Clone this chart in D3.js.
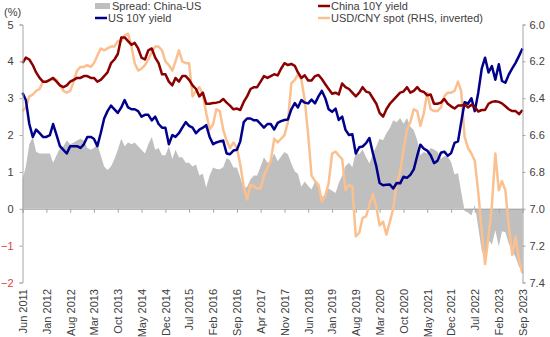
<!DOCTYPE html>
<html><head><meta charset="utf-8">
<script src="https://cdn.jsdelivr.net/npm/d3@7"></script>
<style>
body{margin:0;background:#fff;}
svg{display:block;font-family:"Liberation Sans",Arial,sans-serif;}
</style></head>
<body><svg id="c" width="550" height="337"></svg>
<script>
// Monthly observations, Jun 2011 .. Sep 2023
const startMonth = "2011-06";
const usYield = [
 3.15,2.95,2.3,1.95,2.15,2.05,1.95,
 1.95,2.0,2.3,2.0,1.7,1.6,1.5,1.7,1.7,1.7,1.65,1.75,
 1.95,1.95,1.9,1.7,2.05,2.45,2.65,2.8,2.7,2.6,2.75,2.95,
 2.75,2.7,2.7,2.65,2.5,2.55,2.55,2.4,2.5,2.3,2.2,2.2,
 1.75,2.0,1.95,2.05,2.2,2.35,2.25,2.2,2.05,2.15,2.2,2.27,
 1.95,1.75,1.8,1.83,1.85,1.5,1.48,1.58,1.6,1.83,2.35,2.45,
 2.45,2.4,2.4,2.3,2.2,2.3,2.3,2.15,2.33,2.38,2.41,2.42,
 2.7,2.87,2.75,2.95,2.88,2.86,2.96,2.86,3.05,3.2,3.0,2.7,
 2.63,2.72,2.41,2.5,2.14,2.0,2.02,1.5,1.67,1.69,1.78,1.92,
 1.51,1.15,0.7,0.64,0.65,0.66,0.55,0.7,0.69,0.87,0.84,0.92,
 1.07,1.44,1.74,1.63,1.58,1.45,1.24,1.3,1.52,1.55,1.44,1.51,
 1.79,1.83,2.34,2.89,2.85,3.0,2.65,3.15,3.8,4.1,3.7,3.87,
 3.5,3.92,3.47,3.42,3.64,3.81,3.96,4.15,4.35
];
const chinaYield = [
 3.95,4.1,4.05,3.9,3.7,3.55,3.45,
 3.45,3.5,3.55,3.45,3.35,3.3,3.35,3.45,3.5,3.55,3.55,3.6,
 3.6,3.55,3.55,3.45,3.5,3.6,3.7,3.95,4.05,4.2,4.65,4.65,
 4.55,4.45,4.5,4.35,4.1,4.05,4.3,4.35,4.1,3.95,3.65,3.65,
 3.45,3.35,3.55,3.45,3.6,3.6,3.5,3.35,3.25,3.05,3.15,2.85,
 2.85,2.87,2.88,2.9,2.98,2.88,2.8,2.7,2.72,2.68,2.9,3.05,
 3.25,3.3,3.3,3.45,3.6,3.55,3.6,3.65,3.62,3.8,3.95,3.9,
 3.93,3.88,3.7,3.55,3.62,3.48,3.48,3.6,3.63,3.52,3.38,3.25,
 3.12,3.15,3.1,3.4,3.3,3.25,3.15,3.05,3.15,3.3,3.18,3.15,
 3.0,2.85,2.6,2.5,2.7,2.85,2.95,3.05,3.15,3.18,3.3,3.15,
 3.2,3.3,3.2,3.17,3.08,3.1,2.85,2.85,2.88,2.98,2.85,2.78,
 2.72,2.8,2.8,2.83,2.75,2.82,2.76,2.64,2.68,2.68,2.85,2.9,
 2.92,2.9,2.86,2.78,2.7,2.65,2.65,2.57,2.68
];
const spread = [
 0.8,1.15,1.75,1.95,1.55,1.5,1.5,
 1.5,1.5,1.25,1.45,1.65,1.7,1.85,1.75,1.8,1.85,1.9,1.85,
 1.65,1.6,1.65,1.75,1.45,1.15,1.05,1.15,1.35,1.6,1.9,1.7,
 1.8,1.75,1.8,1.7,1.6,1.5,1.75,1.95,1.6,1.65,1.45,1.45,
 1.7,1.35,1.6,1.4,1.4,1.25,1.25,1.15,1.2,0.9,0.95,0.58,
 0.9,1.12,1.08,1.07,1.13,1.38,1.32,1.12,1.12,0.85,0.55,0.6,
 0.8,0.9,0.9,1.15,1.4,1.25,1.3,1.5,1.29,1.42,1.54,1.48,
 1.23,1.01,0.95,0.6,0.74,0.62,0.52,0.74,0.58,0.32,0.38,0.55,
 0.49,0.43,0.69,0.9,1.16,1.25,1.13,1.55,1.48,1.61,1.4,1.23,
 1.49,1.7,1.9,1.86,2.05,2.19,2.4,2.35,2.46,2.31,2.46,2.23,
 2.13,1.86,1.46,1.54,1.5,1.65,1.61,1.55,1.36,1.43,1.41,1.27,
 0.93,0.97,0.46,-0.06,-0.1,-0.18,0.11,-0.51,-1.12,-1.42,-0.85,-0.97,
 -0.58,-1.02,-0.61,-0.64,-0.94,-1.16,-1.31,-1.58,-1.67
];
const usdCny = [
 6.47,6.45,6.39,6.38,6.36,6.35,6.31,
 6.31,6.30,6.30,6.30,6.33,6.36,6.37,6.36,6.31,6.25,6.23,6.23,
 6.22,6.23,6.21,6.17,6.13,6.14,6.13,6.12,6.12,6.09,6.09,6.06,
 6.05,6.12,6.21,6.25,6.24,6.22,6.19,6.15,6.12,6.12,6.14,6.20,
 6.22,6.25,6.20,6.14,6.20,6.21,6.21,6.39,6.36,6.34,6.38,6.48,
 6.57,6.54,6.46,6.47,6.57,6.63,6.67,6.64,6.67,6.76,6.88,6.95,
 6.87,6.88,6.89,6.89,6.82,6.78,6.74,6.62,6.64,6.62,6.60,6.53,
 6.32,6.30,6.27,6.30,6.41,6.60,6.82,6.85,6.87,6.96,6.93,6.86,
 6.70,6.69,6.71,6.73,6.90,6.87,6.88,7.15,7.13,7.05,7.04,6.98,
 6.92,6.99,7.09,7.07,7.14,7.07,7.00,6.86,6.80,6.68,6.57,6.53,
 6.46,6.47,6.55,6.48,6.37,6.46,6.47,6.47,6.45,6.39,6.37,6.37,
 6.36,6.31,6.36,6.61,6.67,6.70,6.74,6.91,7.12,7.30,7.15,6.98,
 6.70,6.90,6.85,6.90,7.09,7.25,7.15,7.28,7.35
];
const leftTicks = [-2,-1,0,1,2,3,4,5];
const rightTicks = [6.0,6.2,6.4,6.6,6.8,7.0,7.2,7.4];
const xTickLabels = ["Jun 2011","Jan 2012","Aug 2012","Mar 2013","Oct 2013","May 2014","Dec 2014","Jul 2015","Feb 2016","Sep 2016","Apr 2017","Nov 2017","Jun 2018","Jan 2019","Aug 2019","Mar 2020","Oct 2020","May 2021","Dec 2021","Jul 2022","Feb 2023","Sep 2023"];
const legendNames = ["Spread: China-US","US 10Y yield","China 10Y yield","USD/CNY spot (RHS, inverted)"];

const colors = {spread:"#BFBFBF", us:"#00008B", china:"#8B0000", cny:"#FAC08F", axis:"#A6A6A6", text:"#404040", neg:"#E0403A"};

const parseM = d3.timeParse("%Y-%m");
const t0 = parseM(startMonth);
const dates = usYield.map((_, i) => d3.timeMonth.offset(t0, i));
const parseLbl = d3.timeParse("%b %Y");
const tickDates = xTickLabels.map(s => parseLbl(s));

const svg = d3.select("#c");
const L = 22.5, R = 522.5, T = 24.5, B = 282.5;
const x = d3.scaleTime().domain([dates[0], dates[dates.length-1]]).range([L, R]);
const y = d3.scaleLinear().domain([-2, 5]).range([B, T]);
const y2 = d3.scaleLinear().domain([6.0, 7.4]).range([T, B]);

// spread area
svg.append("path")
  .datum(spread)
  .attr("fill", colors.spread)
  .attr("d", d3.area().x((d,i)=>x(dates[i])).y0(y(0)).y1(d=>y(d)));

// zero axis line with ticks
const gx = svg.append("g").attr("transform", `translate(0,${y(0)})`)
  .call(d3.axisBottom(x).tickValues(tickDates).tickSize(4).tickFormat(""));
gx.select(".domain").attr("stroke", colors.axis);
gx.selectAll(".tick line").attr("stroke", colors.axis);

// lines
const line = (arr, yy) => d3.line().x((d,i)=>x(dates[i])).y(d=>yy(d))(arr);
svg.append("path").attr("d", line(usdCny, y2)).attr("fill","none").attr("stroke",colors.cny).attr("stroke-width",2.5).attr("stroke-linejoin","round");
svg.append("path").attr("d", line(usYield, y)).attr("fill","none").attr("stroke",colors.us).attr("stroke-width",2.5).attr("stroke-linejoin","round");
svg.append("path").attr("d", line(chinaYield, y)).attr("fill","none").attr("stroke",colors.china).attr("stroke-width",2.5).attr("stroke-linejoin","round");

// left axis
const gl = svg.append("g").attr("transform", `translate(${L},0)`)
  .call(d3.axisLeft(y).tickValues(leftTicks).tickSize(3).tickPadding(6).tickFormat(d3.format("d")));
gl.select(".domain").attr("stroke", colors.axis);
gl.selectAll(".tick line").attr("stroke", colors.axis);
gl.selectAll(".tick text").attr("fill", d => d < 0 ? colors.neg : colors.text).attr("font-size", 11).attr("font-family","Liberation Sans, Arial, sans-serif");

// right axis
const gr = svg.append("g").attr("transform", `translate(${R},0)`)
  .call(d3.axisRight(y2).tickValues(rightTicks).tickSize(3).tickPadding(4).tickFormat(d3.format(".1f")));
gr.select(".domain").attr("stroke", colors.axis);
gr.selectAll(".tick line").attr("stroke", colors.axis);
gr.selectAll(".tick text").attr("fill", colors.text).attr("font-size", 11).attr("font-family","Liberation Sans, Arial, sans-serif");

// bottom labels
const gb = svg.append("g").attr("transform", `translate(0,289)`)
  .call(d3.axisBottom(x).tickValues(tickDates).tickSize(0).tickFormat((d,i)=>xTickLabels[i]));
gb.select(".domain").remove();
gb.selectAll(".tick text")
  .attr("transform","rotate(-90)")
  .attr("text-anchor","end")
  .attr("x", 0).attr("y", 0).attr("dy","0.35em")
  .attr("fill", colors.text).attr("font-size", 11).attr("font-family","Liberation Sans, Arial, sans-serif");

// (%) label
svg.append("text").attr("x", 4).attr("y", 16).text("(%)").attr("fill", colors.text).attr("font-size", 11);

// legend
const leg = [
  {name: legendNames[0], x: 95, y: 6, type: "rect", c: colors.spread},
  {name: legendNames[1], x: 95, y: 18, type: "line", c: colors.us},
  {name: legendNames[2], x: 318, y: 6, type: "line", c: colors.china},
  {name: legendNames[3], x: 318, y: 18, type: "line", c: colors.cny}
];
leg.forEach(l => {
  if (l.type === "rect") svg.append("rect").attr("x", l.x).attr("y", l.y-3).attr("width", 15).attr("height", 6).attr("fill", l.c);
  else svg.append("line").attr("x1", l.x).attr("x2", l.x+12).attr("y1", l.y).attr("y2", l.y).attr("stroke", l.c).attr("stroke-width", 2.5);
  svg.append("text").attr("x", l.x + (l.type==="rect"?17:13)).attr("y", l.y).attr("dy","0.35em").text(l.name).attr("fill", colors.text).attr("font-size", 11);
});
</script></body></html>
